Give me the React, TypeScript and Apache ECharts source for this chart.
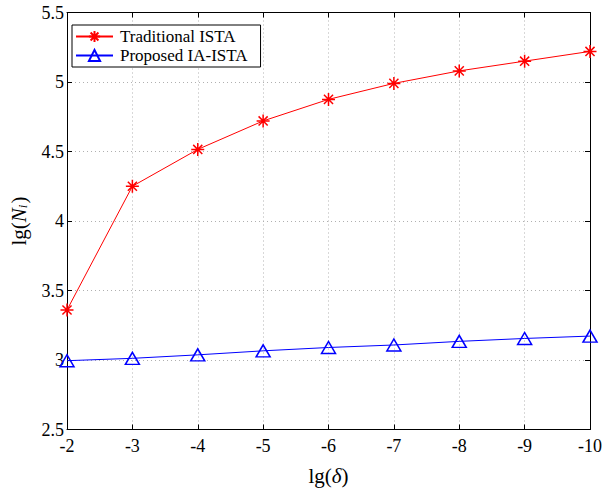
import React, { useEffect, useRef } from "react";
import * as echarts from "echarts";

const xValues = [-2, -3, -4, -5, -6, -7, -8, -9, -10];
const traditionalISTA = [3.36, 4.25, 4.515, 4.72, 4.875, 4.99, 5.08, 5.15, 5.22];
const proposedIAISTA = [2.995, 3.012, 3.037, 3.066, 3.09, 3.108, 3.134, 3.155, 3.172];
const seriesNames = ["Traditional ISTA", "Proposed IA-ISTA"];

const FONT = "'Liberation Serif', 'Times New Roman', serif";

export default function App() {
  const ref = useRef<HTMLDivElement>(null);
  useEffect(() => {
    if (!ref.current) return;
    const chart = echarts.init(ref.current, null, { renderer: "svg" });
    const grid = { left: 66, right: 12.5, top: 12.5, bottom: 63.5 };
    const splitLine = { show: true, lineStyle: { color: "#b0b0b0", type: [1, 3] as any, width: 1 } };
    const axisLine = { show: true, onZero: false, lineStyle: { color: "#000", width: 1 } };
    const tick = { show: true, inside: true, length: 5, lineStyle: { color: "#000" } };
    const starPath = "path://M0,-10L0,10M-10,0L10,0M-7,-7L7,7M-7,7L7,-7";
    const triPath = "path://M0,-10L8.66,5L-8.66,5Z";
    chart.setOption({
      animation: false,
      backgroundColor: "#fff",
      textStyle: { fontFamily: FONT, color: "#000" },
      grid,
      legend: {
        left: 72,
        top: 25,
        orient: "vertical",
        backgroundColor: "#fff",
        borderColor: "#000",
        borderWidth: 1,
        borderRadius: 0,
        padding: [3, 13, 3, 3],
        itemWidth: 37,
        itemHeight: 14,
        itemGap: 2,
        textStyle: { fontFamily: FONT, fontSize: 17, color: "#000", padding: [0, 0, 0, 2] },
        data: seriesNames,
      },
      xAxis: [
        {
          type: "value",
          min: -10,
          max: -2,
          interval: 1,
          inverse: true,
          axisLine,
          axisTick: tick,
          splitLine,
          axisLabel: { fontFamily: FONT, fontSize: 18, color: "#000", margin: 7 },
          name: "{n|lg(}{i|δ}{n|)}",
          nameLocation: "middle",
          nameGap: 36,
          nameTextStyle: {
            rich: {
              n: { fontFamily: FONT, fontSize: 21, color: "#000" },
              i: { fontFamily: FONT, fontSize: 21, fontStyle: "italic", color: "#000" },
            },
          },
        },
        {
          type: "value",
          position: "top",
          min: -10,
          max: -2,
          interval: 1,
          inverse: true,
          axisLine,
          axisTick: tick,
          splitLine: { show: false },
          axisLabel: { show: false },
        },
      ],
      yAxis: [
        {
          type: "value",
          min: 2.5,
          max: 5.5,
          interval: 0.5,
          axisLine,
          axisTick: tick,
          splitLine,
          axisLabel: { fontFamily: FONT, fontSize: 18, color: "#000", margin: 3 },
          name: "{n|lg(}{i|N}{s|i}{n|)}",
          nameLocation: "middle",
          nameGap: 38,
          nameRotate: 90,
          nameTextStyle: {
            rich: {
              n: { fontFamily: FONT, fontSize: 21, color: "#000" },
              i: { fontFamily: FONT, fontSize: 21, fontStyle: "italic", color: "#000" },
              s: { fontFamily: FONT, fontSize: 13, fontStyle: "italic", color: "#000", padding: [8, 1, 0, 0] },
            },
          },
        },
        {
          type: "value",
          position: "right",
          min: 2.5,
          max: 5.5,
          interval: 0.5,
          axisLine,
          axisTick: tick,
          splitLine: { show: false },
          axisLabel: { show: false },
        },
      ],
      series: [
        {
          name: seriesNames[0],
          type: "line",
          data: xValues.map((x, i) => [x, traditionalISTA[i]]),
          symbol: starPath,
          symbolSize: 13,
          showAllSymbol: true,
          color: "#ff0000",
          lineStyle: { color: "#ff0000", width: 1 },
          itemStyle: { color: "#ff0000", borderColor: "#ff0000", borderWidth: 1.5 },
        },
        {
          name: seriesNames[1],
          type: "line",
          data: xValues.map((x, i) => [x, proposedIAISTA[i]]),
          symbol: triPath,
          symbolSize: [14, 12],
          showAllSymbol: true,
          color: "#0000ff",
          lineStyle: { color: "#0000ff", width: 1 },
          itemStyle: { color: "rgba(255,255,255,0)", borderColor: "#0000ff", borderWidth: 1.5 },
        },
      ],
    });
    return () => chart.dispose();
  }, []);
  return <div ref={ref} style={{ width: 605, height: 493, position: "fixed", left: 0, top: 0 }} />;
}
